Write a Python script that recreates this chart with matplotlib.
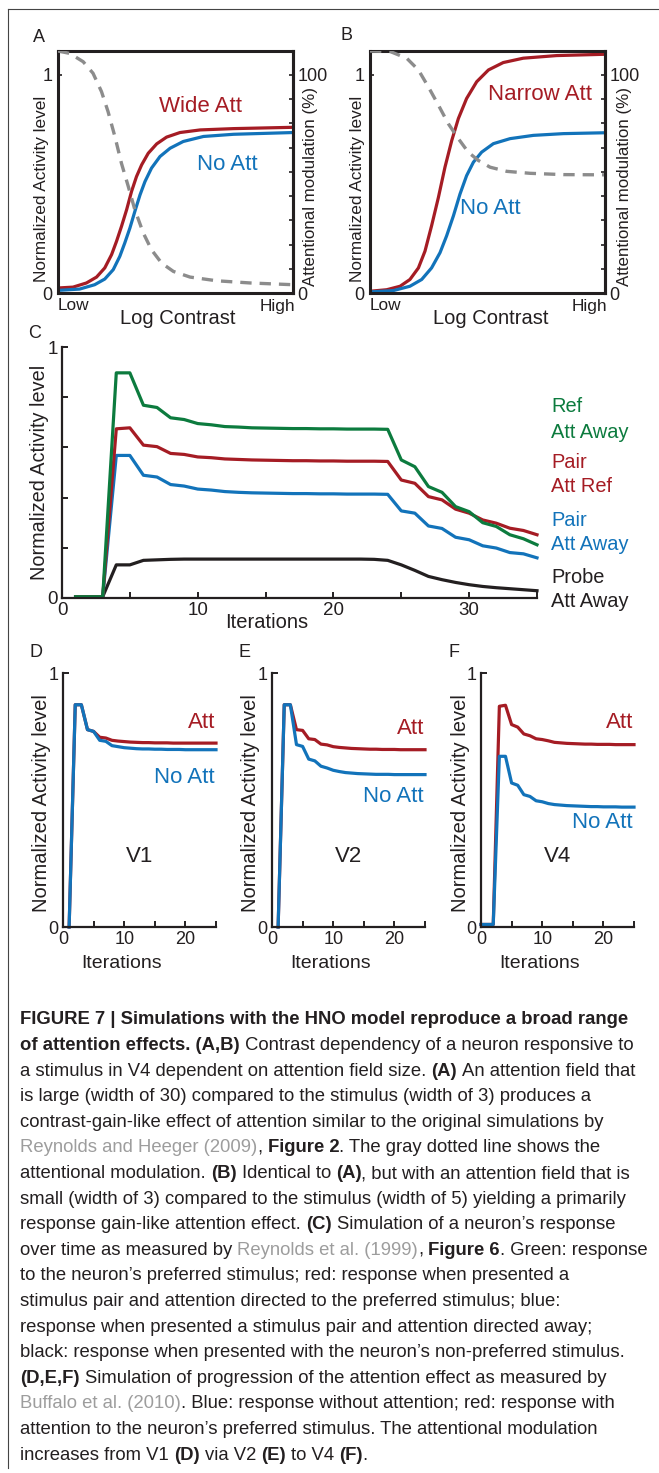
import matplotlib
matplotlib.use('Agg')
import matplotlib.pyplot as plt
from matplotlib import font_manager
from matplotlib.lines import Line2D
import numpy as np

# ---- data ----

# panels A, B: log contrast (0 = low, 1 = high)
a_att_x = [0, 0.064, 0.121, 0.164, 0.199, 0.228, 0.249, 0.270, 0.292, 0.313, 0.334, 0.356, 0.384, 0.420, 0.462, 0.519, 0.605, 0.747, 1.0]
a_att_y = [0.023, 0.027, 0.046, 0.073, 0.115, 0.176, 0.237, 0.305, 0.382, 0.466, 0.534, 0.588, 0.641, 0.684, 0.715, 0.736, 0.748, 0.754, 0.760]
a_no_x = [0, 0.092, 0.156, 0.199, 0.235, 0.263, 0.284, 0.306, 0.327, 0.349, 0.370, 0.398, 0.434, 0.477, 0.533, 0.619, 0.747, 1.0]
a_no_y = [0.012, 0.018, 0.038, 0.064, 0.107, 0.168, 0.229, 0.298, 0.374, 0.450, 0.511, 0.573, 0.626, 0.664, 0.695, 0.718, 0.728, 0.736]
a_mod_x = [0, 0.05, 0.107, 0.149, 0.185, 0.213, 0.242, 0.270, 0.299, 0.327, 0.363, 0.398, 0.441, 0.491, 0.562, 0.676, 0.818, 1.0]
a_mod_y = [111, 109.9, 106.1, 100.8, 92.4, 83.2, 71.8, 59.5, 48.9, 38.2, 27.5, 19.8, 13.7, 9.9, 7.3, 5.6, 4.6, 3.8]

b_att_x = [0, 0.071, 0.128, 0.170, 0.206, 0.234, 0.262, 0.291, 0.319, 0.348, 0.376, 0.411, 0.454, 0.504, 0.567, 0.652, 0.794, 1.0]
b_att_y = [0.008, 0.015, 0.031, 0.062, 0.115, 0.192, 0.308, 0.438, 0.577, 0.700, 0.800, 0.892, 0.969, 1.023, 1.057, 1.077, 1.089, 1.095]
b_no_x = [0, 0.099, 0.170, 0.220, 0.262, 0.298, 0.326, 0.355, 0.383, 0.411, 0.440, 0.475, 0.525, 0.596, 0.695, 0.823, 1.0]
b_no_y = [0.005, 0.011, 0.031, 0.062, 0.115, 0.185, 0.262, 0.354, 0.454, 0.538, 0.600, 0.646, 0.685, 0.708, 0.723, 0.731, 0.735]
b_mod_x = [0, 0.085, 0.156, 0.206, 0.248, 0.291, 0.333, 0.376, 0.418, 0.461, 0.511, 0.582, 0.681, 0.823, 1.0]
b_mod_y = [111, 110.8, 107.7, 102.3, 94.6, 86.2, 77.7, 70.8, 64.6, 60.8, 57.7, 55.8, 54.9, 54.3, 54.2]

# panel C: iterations 1..35
c_iter = list(range(1, 36))
c_ref_away = [0.005, 0.005, 0.005, 0.897, 0.897, 0.768, 0.759, 0.718, 0.711, 0.695, 0.690, 0.683, 0.681, 0.678, 0.677,
              0.676, 0.675, 0.675, 0.674, 0.674, 0.673, 0.673, 0.673, 0.672, 0.550, 0.523, 0.444, 0.421, 0.364, 0.344,
              0.300, 0.285, 0.252, 0.236, 0.212]
c_pair_ref = [0.005, 0.005, 0.005, 0.674, 0.678, 0.609, 0.603, 0.576, 0.572, 0.562, 0.559, 0.554, 0.552, 0.550, 0.549,
              0.548, 0.547, 0.547, 0.546, 0.546, 0.545, 0.545, 0.545, 0.544, 0.470, 0.457, 0.404, 0.391, 0.354, 0.338,
              0.311, 0.298, 0.278, 0.269, 0.252]
c_pair_away = [0.005, 0.005, 0.005, 0.568, 0.568, 0.489, 0.482, 0.452, 0.446, 0.434, 0.430, 0.424, 0.421, 0.419, 0.418,
               0.417, 0.416, 0.416, 0.415, 0.415, 0.414, 0.414, 0.414, 0.413, 0.347, 0.338, 0.287, 0.277, 0.242, 0.232,
               0.208, 0.199, 0.181, 0.176, 0.160]
c_probe_away = [0.005, 0.005, 0.005, 0.132, 0.132, 0.150, 0.152, 0.154, 0.155, 0.155, 0.155, 0.155, 0.155, 0.155, 0.155,
                0.155, 0.155, 0.155, 0.155, 0.155, 0.155, 0.155, 0.154, 0.150, 0.132, 0.110, 0.086, 0.073, 0.062, 0.053,
                0.046, 0.041, 0.037, 0.033, 0.029]

# panels D, E: iterations 1..25, panel F: iterations 0..25
d_iter = list(range(1, 26))
d_att = [0, 0.875, 0.875, 0.777, 0.770, 0.747, 0.744, 0.735, 0.732, 0.730, 0.728, 0.727, 0.726, 0.726, 0.725,
         0.725, 0.725, 0.724, 0.724, 0.724, 0.724, 0.724, 0.724, 0.724, 0.724]
d_no = [0, 0.875, 0.875, 0.777, 0.770, 0.735, 0.731, 0.714, 0.710, 0.706, 0.704, 0.702, 0.701, 0.701, 0.700,
        0.700, 0.699, 0.699, 0.699, 0.698, 0.698, 0.698, 0.698, 0.698, 0.698]
e_iter = list(range(1, 26))
e_att = [0, 0.875, 0.875, 0.777, 0.774, 0.741, 0.738, 0.720, 0.717, 0.710, 0.707, 0.705, 0.703, 0.702, 0.701,
         0.700, 0.700, 0.699, 0.699, 0.699, 0.698, 0.698, 0.698, 0.698, 0.698]
e_no = [0, 0.875, 0.875, 0.718, 0.711, 0.661, 0.654, 0.633, 0.626, 0.617, 0.612, 0.608, 0.606, 0.604, 0.603,
        0.602, 0.601, 0.601, 0.601, 0.600, 0.600, 0.600, 0.600, 0.600, 0.600]
f_iter = list(range(0, 26))
f_att = [0.01, 0.01, 0.01, 0.869, 0.873, 0.797, 0.787, 0.760, 0.753, 0.741, 0.738, 0.733, 0.727, 0.725, 0.723,
         0.722, 0.721, 0.720, 0.720, 0.719, 0.719, 0.719, 0.718, 0.718, 0.718, 0.718]
f_no = [0.01, 0.01, 0.01, 0.672, 0.672, 0.567, 0.558, 0.521, 0.514, 0.497, 0.493, 0.486, 0.482, 0.480, 0.478,
        0.477, 0.476, 0.475, 0.474, 0.474, 0.473, 0.473, 0.473, 0.472, 0.472, 0.472]

# caption lines: (text, style) with b = bold, r = regular, g = gray citation
caption = [
    [('FIGURE 7 | Simulations with the HNO model reproduce a broad range', 'b')],
    [('of attention effects. (A,B)', 'b'), (' Contrast dependency of a neuron responsive to', 'r')],
    [('a stimulus in V4 dependent on attention field size. ', 'r'), ('(A)', 'b'), (' An attention field that', 'r')],
    [('is large (width of 30) compared to the stimulus (width of 3) produces a', 'r')],
    [('contrast-gain-like effect of attention similar to the original simulations by', 'r')],
    [('Reynolds and Heeger (2009)', 'g'), (',', 'r'), (' Figure 2', 'b'), ('. The gray dotted line shows the', 'r')],
    [('attentional modulation. ', 'r'), ('(B)', 'b'), (' Identical to ', 'r'), ('(A)', 'b'),
     (', but with an attention field that is', 'r')],
    [('small (width of 3) compared to the stimulus (width of 5) yielding a primarily', 'r')],
    [('response gain-like attention effect. ', 'r'), ('(C)', 'b'), (' Simulation of a neuron\u2019s response', 'r')],
    [('over time as measured by ', 'r'), ('Reynolds et al. (1999)', 'g'), (',', 'r'), (' Figure 6', 'b'),
     ('. Green: response', 'r')],
    [('to the neuron\u2019s preferred stimulus; red: response when presented a', 'r')],
    [('stimulus pair and attention directed to the preferred stimulus; blue:', 'r')],
    [('response when presented a stimulus pair and attention directed away;', 'r')],
    [('black: response when presented with the neuron\u2019s non-preferred stimulus.', 'r')],
    [('(D,E,F)', 'b'), (' Simulation of progression of the attention effect as measured by', 'r')],
    [('Buffalo et al. (2010)', 'g'), ('. Blue: response without attention; red: response with', 'r')],
    [('attention to the neuron\u2019s preferred stimulus. The attentional modulation', 'r')],
    [('increases from V1 ', 'r'), ('(D)', 'b'), (' via V2 ', 'r'), ('(E)', 'b'), (' to V4 ', 'r'), ('(F)', 'b'),
     ('.', 'r')],
]

# ---- styling ----
RED = '#a51c24'
BLUE = '#1273ba'
GREEN = '#0c7b3e'
GRAY = '#8c8c8c'
INK = '#231f20'
CITE = '#9d9d9d'

FONT = ['Liberation Sans', 'DejaVu Sans']
names = {f.name for f in font_manager.fontManager.ttflist}
CAP_FONT = ['Liberation Sans Narrow', 'Liberation Sans', 'DejaVu Sans'] if 'Liberation Sans Narrow' in names else FONT
CAP_SIZE = 16.1 if 'Liberation Sans Narrow' in names else 13.3
plt.rcParams['font.family'] = FONT
plt.rcParams['text.color'] = INK

W, H = 659, 1473
fig = plt.figure(figsize=(W / 100, H / 100), dpi=100)
fig.patch.set_facecolor('white')


def axes_px(l, t, r, b):
    return fig.add_axes([l / W, 1 - b / H, (r - l) / W, (b - t) / H])


def text_px(x, y, s, **kw):
    return fig.text(x / W, 1 - y / H, s, **kw)


# frame lines on the left and top of the page
fig.add_artist(Line2D([8 / W, 8 / W], [1 - 9 / H, 1 - 1468 / H], transform=fig.transFigure, color='#444444', lw=0.8))
fig.add_artist(Line2D([8 / W, 1], [1 - 9 / H, 1 - 9 / H], transform=fig.transFigure, color='#444444', lw=0.8))


def contrast_panel(l, r, att_x, att_y, no_x, no_y, mod_x, mod_y):
    ax = axes_px(l, 51, r, 293)
    ax.plot(att_x, att_y, color=RED, lw=2.3)
    ax.plot(no_x, no_y, color=BLUE, lw=2.3)
    ax.set_xlim(0, 1)
    ax.set_ylim(0, 1.11)
    ax.set_xticks([])
    ax.set_yticks([0, 1])
    ax.tick_params(axis='y', direction='in', length=3, width=1.2, pad=4, labelsize=13, colors=INK)
    for sp in ax.spines.values():
        sp.set_linewidth(2.2)
        sp.set_color(INK)
    ax2 = ax.twinx()
    ax2.plot(mod_x, mod_y, color=GRAY, lw=2.4, dashes=(3.4, 2.4))
    ax2.set_ylim(0, 111)
    ax2.set_yticks(np.linspace(0, 100, 10))
    ax2.set_yticklabels(['0'] + [''] * 8 + ['100'])
    ax2.tick_params(axis='y', direction='in', length=3, width=1.2, pad=3, labelsize=13, colors=INK)
    for sp in ax2.spines.values():
        sp.set_visible(False)
    ax2.spines['right'].set_visible(True)
    ax2.spines['right'].set_linewidth(2.2)
    ax2.spines['right'].set_color(INK)
    text_px(l, 306, 'Low', fontsize=12.4, ha='left', va='center')
    text_px(r + 2, 306, 'High', fontsize=12.4, ha='right', va='center')
    return ax


contrast_panel(58, 293, a_att_x, a_att_y, a_no_x, a_no_y, a_mod_x, a_mod_y)
contrast_panel(370, 605, b_att_x, b_att_y, b_no_x, b_no_y, b_mod_x, b_mod_y)

text_px(39, 38, 'A', fontsize=13, ha='center', va='center')
text_px(347, 36, 'B', fontsize=13, ha='center', va='center')
for x in (42, 358):
    text_px(x, 189, 'Normalized Activity level', fontsize=12.4, rotation=90, ha='center', va='center')
for x in (311, 624):
    text_px(x, 187, 'Attentional modulation (%)', fontsize=12.2, rotation=90, ha='center', va='center')
text_px(178, 318, 'Log Contrast', fontsize=14.5, ha='center', va='center')
text_px(491, 318, 'Log Contrast', fontsize=14.5, ha='center', va='center')
text_px(159, 107, 'Wide Att', fontsize=16, color=RED, ha='left', va='center')
text_px(197, 165, 'No Att', fontsize=16, color=BLUE, ha='left', va='center')
text_px(488, 95, 'Narrow Att', fontsize=16, color=RED, ha='left', va='center')
text_px(460, 209, 'No Att', fontsize=16, color=BLUE, ha='left', va='center')

# ---- panel C ----
axc = axes_px(62, 347, 537, 598)
for series, col in ((c_probe_away, INK), (c_pair_away, BLUE), (c_pair_ref, RED), (c_ref_away, GREEN)):
    axc.plot(c_iter, series, color=col, lw=2.3, clip_on=False)
axc.set_xlim(0, 35)
axc.set_ylim(0, 1)
axc.set_xticks(range(0, 36, 5))
axc.set_xticklabels(['0', '', '10', '', '20', '', '30', ''])
axc.set_yticks([0, 0.2, 0.4, 0.6, 0.8, 1.0])
axc.set_yticklabels(['0', '', '', '', '', '1'])
axc.tick_params(direction='in', length=4, width=1.4, pad=3, labelsize=13.5, colors=INK)
axc.spines['top'].set_visible(False)
axc.spines['right'].set_visible(False)
for side in ('left', 'bottom'):
    axc.spines[side].set_linewidth(1.6)
    axc.spines[side].set_color(INK)
text_px(35, 334, 'C', fontsize=13, ha='center', va='center')
text_px(40, 472, 'Normalized Activity level', fontsize=14.3, rotation=90, ha='center', va='center')
text_px(267, 623, 'Iterations', fontsize=14.5, ha='center', va='center')
c_labels = [('Ref', 407, GREEN), ('Att Away', 432, GREEN), ('Pair', 463, RED), ('Att Ref', 487, RED),
            ('Pair', 520, BLUE), ('Att Away', 544, BLUE), ('Probe', 577, INK), ('Att Away', 601, INK)]
for s, y, col in c_labels:
    text_px(551, y, s, fontsize=14.4, color=col, ha='left', va='center')

# ---- panels D, E, F ----
panels = [
    (63, 'D', 'V1', d_iter, d_att, d_no, 722, 777),
    (272, 'E', 'V2', e_iter, e_att, e_no, 729, 797),
    (481, 'F', 'V4', f_iter, f_att, f_no, 723, 823),
]
for l, letter, area, it, att, no, y_att, y_no in panels:
    ax = axes_px(l, 673, l + 153, 927)
    ax.plot(it, att, color=RED, lw=2.3, clip_on=False)
    ax.plot(it, no, color=BLUE, lw=2.3, clip_on=False)
    ax.set_xlim(0, 25)
    ax.set_ylim(0, 1)
    ax.set_xticks([0, 5, 10, 15, 20, 25])
    ax.set_xticklabels(['0', '', '10', '', '20', ''])
    ax.set_yticks([0, 1])
    ax.tick_params(direction='in', length=4, width=1.4, pad=3, labelsize=13, colors=INK)
    ax.spines['top'].set_visible(False)
    ax.spines['right'].set_visible(False)
    for side in ('left', 'bottom'):
        ax.spines[side].set_linewidth(1.6)
        ax.spines[side].set_color(INK)
    text_px(l - 27, 652, letter, fontsize=13, ha='center', va='center')
    text_px(l - 21, 803, 'Normalized Activity level', fontsize=14.5, rotation=90, ha='center', va='center')
    text_px(l + 59, 963, 'Iterations', fontsize=14, ha='center', va='center')
    text_px(l + 77, 857, area, fontsize=16, ha='center', va='center')
    text_px(l + 152, y_att, 'Att', fontsize=16, color=RED, ha='right', va='center')
    text_px(l + 152, y_no, 'No Att', fontsize=16, color=BLUE, ha='right', va='center')

# ---- caption with mixed bold / gray runs ----
fig.canvas.draw()
renderer = fig.canvas.get_renderer()
styles = {'b': ('bold', INK), 'r': ('normal', INK), 'g': ('normal', CITE)}


def run_width(s, weight):
    t = text_px(0, 0, s, fontsize=CAP_SIZE, fontweight=weight, family=CAP_FONT)
    w = t.get_window_extent(renderer).width
    t.remove()
    return w


space = {w: run_width('n n', w) - run_width('nn', w) for w in ('bold', 'normal')}

for i, line in enumerate(caption):
    x = 20.0
    y = 1024.5 + 25.6 * i
    for s, st in line:
        weight, col = styles[st]
        lead = len(s) - len(s.lstrip(' '))
        trail = len(s) - len(s.rstrip(' '))
        core = s.strip(' ')
        x += lead * space[weight]
        text_px(x, y, core, fontsize=CAP_SIZE, fontweight=weight, family=CAP_FONT, color=col,
                ha='left', va='baseline')
        x += run_width(core, weight) + trail * space[weight]

fig.savefig('out.png', dpi=100, facecolor='white')
